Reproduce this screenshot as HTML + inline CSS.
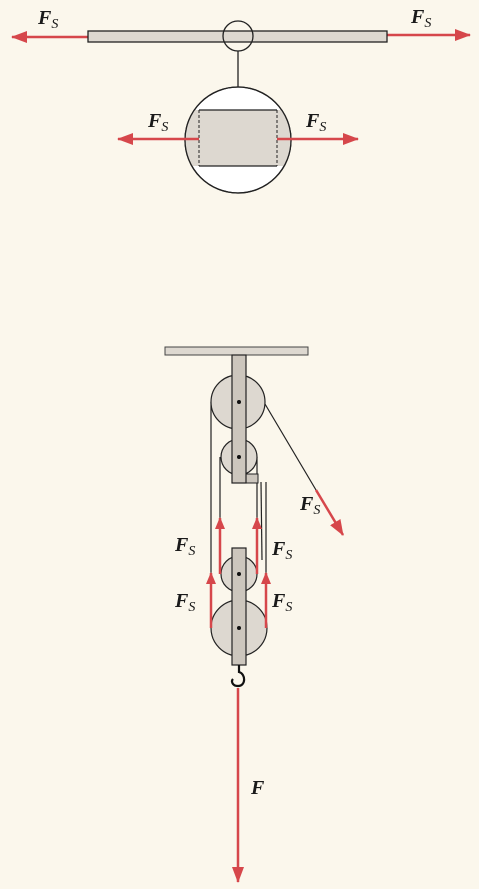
<!DOCTYPE html>
<html><head><meta charset="utf-8">
<style>
html,body{margin:0;padding:0;background:#fbf7ec;}
svg{display:block;}
.lab{font-family:"Liberation Serif",serif;font-style:italic;font-weight:bold;font-size:20px;fill:#1a1a1a;}
.sub{font-family:"Liberation Serif",serif;font-style:italic;font-weight:normal;font-size:14px;}
</style></head>
<body>
<svg width="479" height="889" viewBox="0 0 479 889" xmlns="http://www.w3.org/2000/svg">
<defs>
<marker id="ah" markerWidth="12" markerHeight="10" refX="11" refY="5" orient="auto" markerUnits="userSpaceOnUse">
<path d="M0,0 L12,5 L0,10 Z" fill="#d6474b"/></marker>
<marker id="ahb" markerWidth="16" markerHeight="12" refX="15" refY="6" orient="auto" markerUnits="userSpaceOnUse">
<path d="M0,0 L16,6 L0,12 Z" fill="#d6474b"/></marker>
<clipPath id="cc"><circle cx="238" cy="140" r="53"/></clipPath>
</defs>
<rect width="479" height="889" fill="#fbf7ec"/>

<g>
<line x1="88" y1="37" x2="12" y2="37" stroke="#d6474b" stroke-width="2.5" marker-end="url(#ahb)"/>
<line x1="387" y1="35" x2="470" y2="35" stroke="#d6474b" stroke-width="2.5" marker-end="url(#ahb)"/>
<rect x="88" y="31" width="299" height="11" fill="#ddd8d0" stroke="#222" stroke-width="1.3"/>
<circle cx="238" cy="36" r="15" fill="none" stroke="#222" stroke-width="1.3"/>
<line x1="238" y1="51" x2="238" y2="87" stroke="#222" stroke-width="1.3"/>
<circle cx="238" cy="140" r="53" fill="#fff" stroke="#222" stroke-width="1.3"/>
<rect x="180" y="110" width="120" height="56" fill="#ddd8d0" clip-path="url(#cc)"/>
<line x1="199" y1="110" x2="277" y2="110" stroke="#222" stroke-width="1.2"/>
<line x1="199" y1="166" x2="277" y2="166" stroke="#222" stroke-width="1.2"/>
<line x1="199" y1="110" x2="199" y2="166" stroke="#222" stroke-width="1" stroke-dasharray="3,2"/>
<line x1="277" y1="110" x2="277" y2="166" stroke="#222" stroke-width="1" stroke-dasharray="3,2"/>
<circle cx="238" cy="140" r="53" fill="none" stroke="#222" stroke-width="1.3"/>
<line x1="199" y1="139" x2="118" y2="139" stroke="#d6474b" stroke-width="2.5" marker-end="url(#ahb)"/>
<line x1="277" y1="139" x2="358" y2="139" stroke="#d6474b" stroke-width="2.5" marker-end="url(#ahb)"/>
<text class="lab" x="38" y="24">F<tspan class="sub" dy="4">S</tspan></text>
<text class="lab" x="411" y="23">F<tspan class="sub" dy="4">S</tspan></text>
<text class="lab" x="148" y="127">F<tspan class="sub" dy="4">S</tspan></text>
<text class="lab" x="306" y="127">F<tspan class="sub" dy="4">S</tspan></text>
</g>

<g>
<rect x="165" y="347" width="143" height="8" fill="#ddd8d0" stroke="#444" stroke-width="1"/>
<g stroke="#222" stroke-width="1.2">
<line x1="211" y1="402" x2="211" y2="575"/>
<line x1="220" y1="457" x2="220" y2="520"/>
<line x1="257" y1="457" x2="257" y2="520"/>
<line x1="266" y1="482" x2="266" y2="575"/>
<line x1="261" y1="482" x2="262" y2="560"/>
<line x1="265" y1="404" x2="316" y2="490"/>
</g>
<circle cx="238" cy="402" r="27" fill="#ddd8d0" stroke="#222" stroke-width="1.2"/>
<circle cx="239" cy="457" r="18" fill="#ddd8d0" stroke="#222" stroke-width="1.2"/>
<rect x="245" y="474" width="13" height="9" fill="#ccc6bd" stroke="#222" stroke-width="1"/>
<rect x="232" y="355" width="14" height="128" fill="#ccc6bd" stroke="#222" stroke-width="1.2"/>
<circle cx="239" cy="402" r="2" fill="#111"/>
<circle cx="239" cy="457" r="2" fill="#111"/>

<circle cx="239" cy="628" r="28" fill="#ddd8d0" stroke="#222" stroke-width="1.2"/>
<circle cx="239" cy="574" r="18" fill="#ddd8d0" stroke="#222" stroke-width="1.2"/>
<rect x="232" y="548" width="14" height="117" fill="#ccc6bd" stroke="#222" stroke-width="1.2"/>
<circle cx="239" cy="574" r="2" fill="#111"/>
<circle cx="239" cy="628" r="2" fill="#111"/>
<path d="M239,665 L239,672 C246,674 246,686 238,686 C232,686 231,681 233,679" fill="none" stroke="#111" stroke-width="2.2"/>

<g stroke="#d6474b" stroke-width="2.5">
<line x1="211" y1="628" x2="211" y2="573" marker-end="url(#ah)"/>
<line x1="220" y1="574" x2="220" y2="518" marker-end="url(#ah)"/>
<line x1="257" y1="574" x2="257" y2="518" marker-end="url(#ah)"/>
<line x1="266" y1="628" x2="266" y2="573" marker-end="url(#ah)"/>
<line x1="316" y1="490" x2="343" y2="535" marker-end="url(#ahb)"/>
<line x1="238" y1="688" x2="238" y2="882" marker-end="url(#ahb)"/>
</g>
<text class="lab" x="175" y="551">F<tspan class="sub" dy="4">S</tspan></text>
<text class="lab" x="175" y="607">F<tspan class="sub" dy="4">S</tspan></text>
<text class="lab" x="272" y="555">F<tspan class="sub" dy="4">S</tspan></text>
<text class="lab" x="272" y="607">F<tspan class="sub" dy="4">S</tspan></text>
<text class="lab" x="300" y="510">F<tspan class="sub" dy="4">S</tspan></text>
<text class="lab" x="251" y="794">F</text>
</g>
</svg>
</body></html>
